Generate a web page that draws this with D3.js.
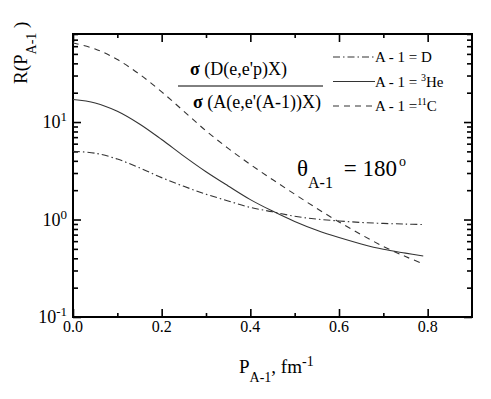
<!DOCTYPE html>
<html>
<head>
<meta charset="utf-8">
<script src="https://cdn.jsdelivr.net/npm/d3@7"></script>
<style>
  body { margin: 0; background: #fff; }
</style>
</head>
<body>
<svg id="chart"></svg>
<script>
const width = 491;
const height = 399;
const serif = 'Liberation Serif, DejaVu Serif, Times New Roman, serif';

// momentum P_{A-1}, fm^-1
const pValues = [0.0, 0.05, 0.1, 0.15, 0.2, 0.25, 0.3, 0.35, 0.4, 0.45, 0.5, 0.55, 0.6, 0.65, 0.7, 0.75, 0.79];
// R for A-1 = D
const rDeuteron = [5.01, 4.79, 4.17, 3.39, 2.69, 2.19, 1.82, 1.55, 1.33, 1.2, 1.08, 1.01, 0.966, 0.933, 0.912, 0.898, 0.887];
// R for A-1 = 3He
const rHelium3 = [17.0, 15.7, 12.9, 9.55, 6.61, 4.47, 3.09, 2.21, 1.6, 1.22, 0.955, 0.776, 0.653, 0.562, 0.495, 0.452, 0.422];
// R for A-1 = 11C
const rCarbon11 = [64.6, 56.2, 43.7, 30.9, 20.4, 12.9, 8.13, 5.37, 3.67, 2.57, 1.82, 1.3, 0.944, 0.7, 0.53, 0.417, 0.351];

const xMajorTicks = [0.0, 0.2, 0.4, 0.6, 0.8];
const xMinorTicks = [0.1, 0.3, 0.5, 0.7];
const yDecades = [-1, 0, 1];

const margin = { left: 73, right: 19, top: 34, bottom: 82 };

const svg = d3.select('#chart')
  .attr('width', width)
  .attr('height', height);

const x = d3.scaleLinear()
  .domain([0, 0.9])
  .range([margin.left, width - margin.right]);
const y = d3.scaleLog()
  .domain([0.1, 80])
  .range([height - margin.bottom, margin.top]);

const x0 = x.range()[0], x1 = x.range()[1];
const y0 = y.range()[0], y1 = y.range()[1];

function addText(parent, size) {
  return parent.append('text')
    .style('font-family', serif)
    .style('font-size', size + 'px')
    .style('fill', '#000');
}

// ===========================================================================
//      axes (frame + inward ticks on all sides)
// ===========================================================================
const yMinor = [];
yDecades.forEach(function (d) {
  for (let k = 2; k <= 9; k++) {
    const v = k * Math.pow(10, d);
    if (v <= 80) yMinor.push(v);
  }
});
const yMajor = yDecades.map(d => Math.pow(10, d));

function axisGroup(axis, tx, ty) {
  const g = svg.append('g')
    .attr('transform', `translate(${tx},${ty})`)
    .call(axis);
  g.selectAll('text').remove();
  g.select('.domain').remove();
  g.selectAll('line').attr('stroke', '#000').attr('stroke-width', 1.6);
  return g;
}

axisGroup(d3.axisBottom(x).tickValues(xMajorTicks).tickSize(-8), 0, y0);
axisGroup(d3.axisBottom(x).tickValues(xMinorTicks).tickSize(-4), 0, y0);
axisGroup(d3.axisTop(x).tickValues(xMajorTicks).tickSize(-8), 0, y1);
axisGroup(d3.axisTop(x).tickValues(xMinorTicks).tickSize(-4), 0, y1);
axisGroup(d3.axisLeft(y).tickValues(yMajor).tickSize(-8), x0, 0);
axisGroup(d3.axisLeft(y).tickValues(yMinor).tickSize(-5), x0, 0);
axisGroup(d3.axisRight(y).tickValues(yMajor).tickSize(-8), x1, 0);
axisGroup(d3.axisRight(y).tickValues(yMinor).tickSize(-5), x1, 0);

svg.append('rect')
  .attr('x', x0)
  .attr('y', y1)
  .attr('width', x1 - x0)
  .attr('height', y0 - y1)
  .attr('fill', 'none')
  .attr('stroke', '#000')
  .attr('stroke-width', 2);

// tick labels
const xLabelGroup = svg.append('g');
xMajorTicks.forEach(function (d) {
  addText(xLabelGroup, 16)
    .attr('x', x(d))
    .attr('y', y0 + 15)
    .attr('text-anchor', 'middle')
    .text(d.toFixed(1));
});

const yLabelGroup = svg.append('g');
yDecades.forEach(function (d) {
  const t = addText(yLabelGroup, 18)
    .attr('x', x0 - 6)
    .attr('y', y(Math.pow(10, d)) + 6)
    .attr('text-anchor', 'end');
  t.append('tspan').text('10');
  t.append('tspan').attr('dy', -7).style('font-size', '13px').text(String(d));
});

// ===========================================================================
//      curves
// ===========================================================================
const series = [
  { name: 'D', values: rDeuteron, dash: '7,3,1.5,3' },
  { name: '3He', values: rHelium3, dash: null },
  { name: '11C', values: rCarbon11, dash: '6,5' },
];

const line = d3.line()
  .x(d => x(d[0]))
  .y(d => y(d[1]))
  .curve(d3.curveCatmullRom);

series.forEach(function (s) {
  svg.append('path')
    .attr('d', line(pValues.map((p, i) => [p, s.values[i]])))
    .attr('fill', 'none')
    .attr('stroke', '#333')
    .attr('stroke-width', 1.1)
    .attr('stroke-dasharray', s.dash);
});

// ===========================================================================
//      legend
// ===========================================================================
const legendRows = [
  { dash: '7,3,1.5,3', pre: 'A - 1 = ', sup: null, post: 'D' },
  { dash: null, pre: 'A - 1 = ', sup: '3', post: 'He' },
  { dash: '6,5', pre: 'A - 1 =', sup: '11', post: 'C' },
];
legendRows.forEach(function (r, i) {
  const ly = 57 + i * 24.5;
  svg.append('line')
    .attr('x1', 333).attr('x2', 375)
    .attr('y1', ly).attr('y2', ly)
    .attr('stroke', '#333')
    .attr('stroke-width', 1.1)
    .attr('stroke-dasharray', r.dash);
  const t = addText(svg, 15)
    .attr('x', 375)
    .attr('y', ly + 5);
  t.append('tspan').text(r.pre);
  if (r.sup) {
    t.append('tspan').attr('dy', -6).style('font-size', '10px').text(r.sup);
    t.append('tspan').attr('dy', 6).text(r.post);
  } else {
    t.append('tspan').text(r.post);
  }
});

// ratio formula
const num = addText(svg, 18).attr('x', 190).attr('y', 75);
num.append('tspan').style('font-weight', 'bold').text('σ');
num.append('tspan').text(' (D(e,e\'p)X)');
svg.append('line')
  .attr('x1', 178).attr('x2', 323)
  .attr('y1', 86).attr('y2', 86)
  .attr('stroke', '#000').attr('stroke-width', 1);
const den = addText(svg, 18).attr('x', 193).attr('y', 108);
den.append('tspan').style('font-weight', 'bold').text('σ');
den.append('tspan').text(' (A(e,e\'(A-1))X)');

// theta annotation
const th = addText(svg, 23).attr('x', 297).attr('y', 176);
th.append('tspan').text('θ');
th.append('tspan').attr('dy', 12).style('font-size', '16px').text('A-1');
th.append('tspan').attr('dy', -12).attr('dx', 5).text(' = 180');
th.append('tspan').attr('dy', -10).attr('dx', 2).style('font-size', '14px').text('o');

// axis titles
const xt = addText(svg, 19).attr('x', 239).attr('y', 373);
xt.append('tspan').text('P');
xt.append('tspan').attr('dy', 9).style('font-size', '14px').text('A-1');
xt.append('tspan').attr('dy', -9).text(', fm');
xt.append('tspan').attr('dy', -7).style('font-size', '14px').text('-1');

const yt = addText(svg, 19).attr('transform', 'translate(27,84) rotate(-90)');
yt.append('tspan').text('R(P');
yt.append('tspan').attr('dy', 9).style('font-size', '14px').text('A-1');
yt.append('tspan').attr('dy', -9).text(' )');
</script>
</body>
</html>
